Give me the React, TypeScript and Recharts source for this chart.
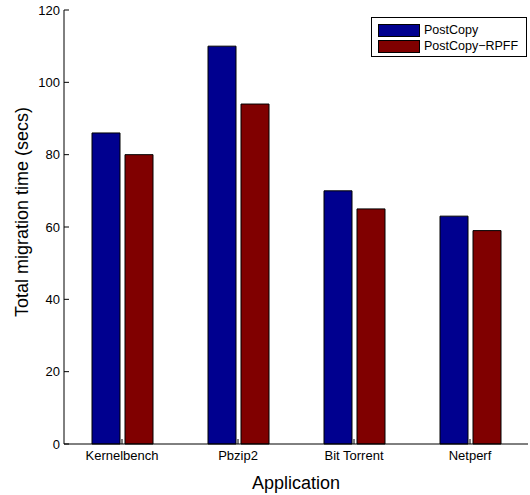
import React from 'react';
import { BarChart, Bar, XAxis, YAxis, Legend } from 'recharts';

const categories = ['Kernelbench', 'Pbzip2', 'Bit Torrent', 'Netperf'];
const postCopy = [86, 110, 70, 63];
const postCopyRPFF = [80, 94, 65, 59];
const yTicks = [0, 20, 40, 60, 80, 100, 120];

const seriesNames = ['PostCopy', 'PostCopy\u2212RPFF'];
const seriesColors = ['#00008F', '#800000'];

const data = categories.map((name, i) => ({
  name,
  postCopy: postCopy[i],
  postCopyRPFF: postCopyRPFF[i],
}));

const FONT = '"Liberation Sans", Arial, Helvetica, sans-serif';

const LegendBox = () => (
  <div
    style={{
      border: '1px solid #000',
      background: '#fff',
      padding: '4px 6px 2px 6px',
      fontFamily: FONT,
      fontSize: 12.5,
      color: '#000',
      boxSizing: 'border-box',
      width: 156,
    }}
  >
    {seriesNames.map((n, i) => (
      <div key={n} style={{ display: 'flex', alignItems: 'center', height: 16 }}>
        <span
          style={{
            display: 'inline-block',
            width: 40,
            height: 11,
            background: seriesColors[i],
            border: '1px solid #000',
            marginRight: 4,
          }}
        />
        <span>{n}</span>
      </div>
    ))}
  </div>
);

const Empty = () => <g />;

export default function App() {
  return (
    <div style={{ position: 'absolute', left: 0, top: 0 }}>
      <BarChart
        width={530}
        height={495}
        data={data}
        margin={{ top: 10, right: 2, left: 0, bottom: 0 }}
        barSize={28}
        barGap={5}
      >
        <XAxis
          dataKey="name"
          height={51}
          stroke="#000"
          tickSize={-5}
          tickMargin={12}
          tick={{ fill: '#000', fontSize: 13, fontFamily: FONT }}
          label={{
            value: 'Application',
            position: 'insideBottom',
            offset: 6,
            style: { fill: '#000', fontSize: 18, fontFamily: FONT },
          }}
        />
        <XAxis
          xAxisId="top"
          dataKey="name"
          orientation="top"
          height={0}
          stroke="#000"
          tickSize={-5}
          tick={<Empty />}
        />
        <YAxis
          width={64}
          domain={[0, 120]}
          ticks={yTicks}
          stroke="#000"
          tickSize={-5}
          tickMargin={9}
          tick={{ fill: '#000', fontSize: 13, fontFamily: FONT }}
          label={{
            value: 'Total migration time (secs)',
            angle: -90,
            position: 'insideLeft',
            offset: 22,
            dy: -15,
            style: { fill: '#000', fontSize: 18, fontFamily: FONT, textAnchor: 'middle' },
          }}
        />
        <YAxis
          yAxisId="right"
          orientation="right"
          width={0}
          domain={[0, 120]}
          ticks={yTicks}
          stroke="#000"
          tickSize={-5}
          tick={<Empty />}
        />
        <Legend
          layout="vertical"
          align="center"
          verticalAlign="middle"
          content={<LegendBox />}
          wrapperStyle={{ top: 17, left: 371, right: 'auto', bottom: 'auto', width: 156, height: 'auto' }}
        />
        <Bar
          dataKey="postCopy"
          name={seriesNames[0]}
          fill={seriesColors[0]}
          stroke="#000"
          strokeWidth={1}
          isAnimationActive={false}
        />
        <Bar
          dataKey="postCopyRPFF"
          name={seriesNames[1]}
          fill={seriesColors[1]}
          stroke="#000"
          strokeWidth={1}
          isAnimationActive={false}
        />
      </BarChart>
    </div>
  );
}
